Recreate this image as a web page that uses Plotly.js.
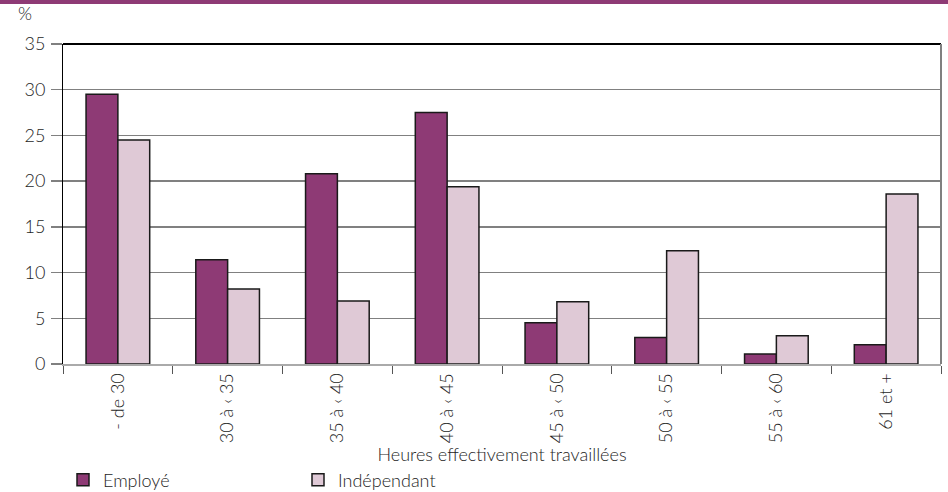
<!DOCTYPE html>
<html>
<head>
<meta charset="utf-8">
<script src="https://cdn.plot.ly/plotly-3.0.1.min.js"></script>
<style>
html,body{margin:0;padding:0;background:#fff;}
#band{position:absolute;left:0;top:0;width:948px;height:4px;background:#8E3A75;z-index:5;}
#chart{width:948px;height:492px;}
</style>
</head>
<body>
<div id="band"></div>
<div id="chart"></div>
<script>
const categories = ["- de 30", "30 à ‹ 35", "35 à ‹ 40", "40 à ‹ 45", "45 à ‹ 50", "50 à ‹ 55", "55 à ‹ 60", "61 et +"];
const employe = [29.5, 11.4, 20.8, 27.5, 4.5, 2.9, 1.1, 2.1];
const independant = [24.5, 8.2, 6.9, 19.4, 6.8, 12.4, 3.1, 18.6];
const yTicks = [0, 5, 10, 15, 20, 25, 30, 35];

const FONT = "Lato, 'Open Sans', sans-serif";
const TXT = "#1e1e1e";
const FS = 18;

const traces = [
  {type: "bar", name: "Employé", x: categories, y: employe,
   marker: {color: "#8E3A75", line: {color: "#1a1a1a", width: 1.5}}},
  {type: "bar", name: "Indépendant", x: categories, y: independant,
   marker: {color: "#DFC9D6", line: {color: "#1a1a1a", width: 1.5}}}
];

const layout = {
  width: 948, height: 492,
  margin: {l: 63, r: 7, t: 44, b: 128, autoexpand: false},
  paper_bgcolor: "#fff", plot_bgcolor: "#fff",
  font: {family: FONT, color: TXT, size: FS, weight: 300},
  barmode: "group", bargap: 0.42, bargroupgap: 0,
  showlegend: true,
  legend: {orientation: "h", x: 0.0, xanchor: "left", y: -0.3625, yanchor: "middle",
           font: {family: FONT, size: FS, color: TXT, weight: 300}, entrywidth: 190, entrywidthmode: "pixels",
           traceorder: "normal"},
  xaxis: {
    type: "category", tickangle: -90, ticks: "outside", ticklen: 8, tickcolor: "#555",
    tickson: "boundaries", showgrid: false, showline: true, linecolor: "#aaaaaa", linewidth: 2,
    automargin: false,
    tickfont: {family: FONT, size: FS, color: TXT, weight: 300},
    title: {text: "Heures effectivement travaillées", standoff: 2, font: {family: FONT, size: FS, color: TXT, weight: 300}},
    fixedrange: true
  },
  yaxis: {
    range: [0, 35], tickvals: yTicks, ticktext: yTicks.map(String),
    ticks: "outside", ticklen: 11, tickcolor: "#808080", tickwidth: 1.5,
    showgrid: true, gridcolor: "#808080", gridwidth: 1.5,
    zeroline: false, showline: true, linecolor: "#000", linewidth: 1,
    automargin: false,
    tickfont: {family: FONT, size: FS, color: TXT, weight: 300}, ticklabelstandoff: 2,
    fixedrange: true
  },
  shapes: [
    {type: "line", xref: "paper", yref: "paper", x0: 0, x1: 1, y0: 1, y1: 1, line: {color: "#000", width: 2}},
    {type: "line", xref: "paper", yref: "paper", x0: 1, x1: 1, y0: 0, y1: 1, line: {color: "#808080", width: 2}}
  ],
  annotations: [
    {text: "%", xref: "paper", yref: "paper", x: -0.043, y: 1.097, showarrow: false,
     xanchor: "center", yanchor: "middle", font: {family: FONT, size: FS, color: TXT, weight: 300}}
  ]
};

Plotly.newPlot("chart", traces, layout, {displayModeBar: false, staticPlot: true});
</script>
</body>
</html>
